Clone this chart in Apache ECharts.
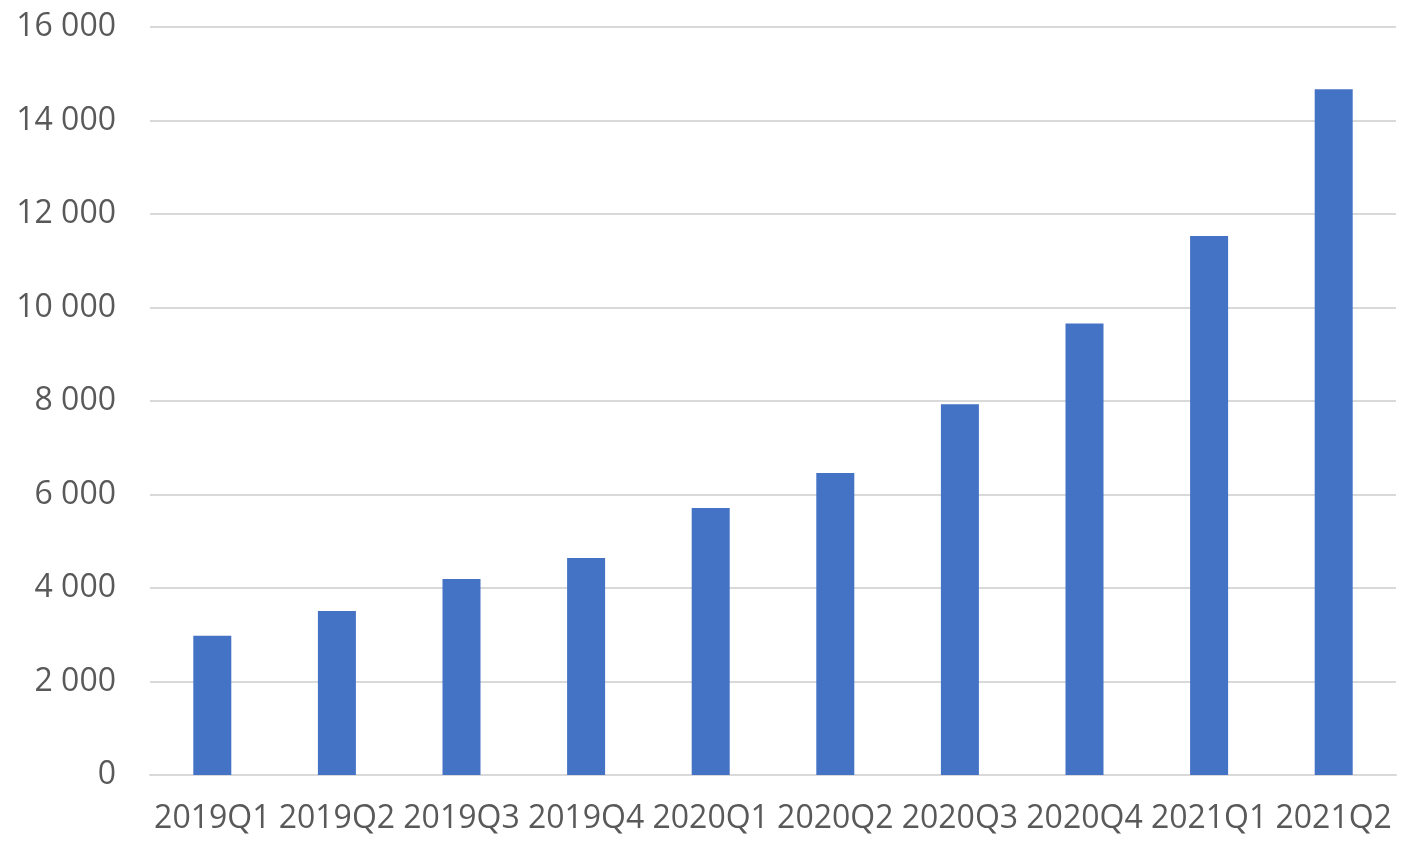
<!DOCTYPE html>
<html>
<head>
<meta charset="utf-8">
<style>
  html, body { margin: 0; padding: 0; background: #fff; }
  #chart { width: 1414px; height: 866px; }
</style>
<script src="https://cdn.jsdelivr.net/npm/echarts@6/dist/echarts.min.js"></script>
</head>
<body>
<div id="chart"></div>
<script>
var quarters = ['2019Q1', '2019Q2', '2019Q3', '2019Q4', '2020Q1', '2020Q2', '2020Q3', '2020Q4', '2021Q1', '2021Q2'];
var values = [2980, 3510, 4190, 4640, 5710, 6460, 7930, 9660, 11530, 14670];

var chart = echarts.init(document.getElementById('chart'));

var labelStyle = {
    color: '#595959',
    fontFamily: 'Open Sans',
    fontSize: 32
};

chart.setOption({
    animation: false,
    grid: { left: 150, right: 18, top: 27, bottom: 91 },
    xAxis: {
        type: 'category',
        data: quarters,
        axisLine: { lineStyle: { color: '#d9d9d9', width: 2 } },
        axisTick: { show: false },
        axisLabel: Object.assign({ margin: 28, interval: 0 }, labelStyle)
    },
    yAxis: {
        type: 'value',
        min: 0,
        max: 16000,
        interval: 2000,
        axisLine: { show: false },
        axisTick: { show: false },
        splitLine: { lineStyle: { color: '#d9d9d9', width: 2 } },
        axisLabel: Object.assign({
            margin: 34,
            formatter: function (v) {
                return String(v).replace(/\B(?=(\d{3})+(?!\d))/g, ' ');
            }
        }, labelStyle)
    },
    series: [{
        type: 'bar',
        data: values,
        barWidth: 38,
        itemStyle: { color: '#4472c4' }
    }]
});

window.addEventListener('resize', chart.resize);
</script>
</body>
</html>
